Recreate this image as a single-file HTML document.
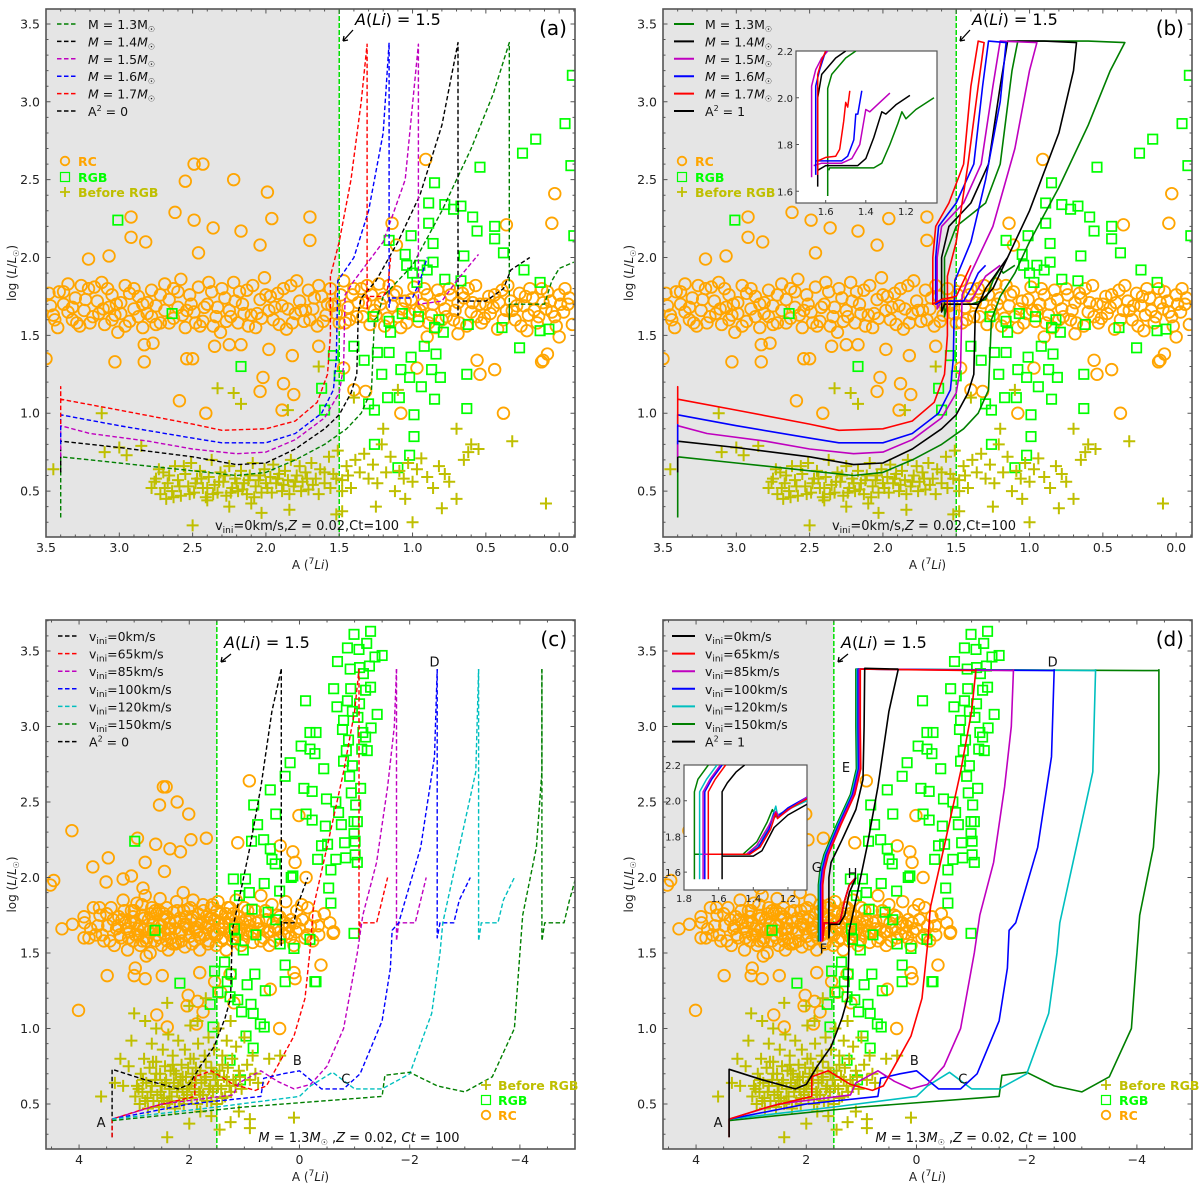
<!DOCTYPE html>
<html><head><meta charset="utf-8"><title>Li-rich giants tracks</title>
<style>
html,body{margin:0;padding:0;background:#fff;}
svg{display:block;font-family:"DejaVu Sans","Liberation Sans",sans-serif;}
</style></head>
<body>
<svg id="fig" width="1200" height="1186" viewBox="0 0 1200 1186" xmlns="http://www.w3.org/2000/svg"></svg>
<script>
// ---------- data: panels (a),(b) observations ----------
const rcAB = [[2.49,2.60],[2.43,2.60],[2.55,2.49],[2.22,2.50],[1.99,2.42],[2.62,2.29],[2.49,2.24],[2.36,2.19],[2.92,2.26],[2.92,2.13],[2.82,2.10],[2.17,2.17],[1.96,2.25],[1.70,2.26],[1.70,2.11],[2.04,2.08],[3.21,1.99],[3.07,2.01],[2.46,2.03],[0.91,2.63],[0.03,2.41],[0.05,2.22],[0.36,2.21],[1.11,2.08],[1.14,2.22],
[3.5,1.35],[3.03,1.33],[2.83,1.33],[2.83,1.44],[2.77,1.45],[2.54,1.35],[2.50,1.35],[2.35,1.43],[2.25,1.44],[2.17,1.44],[1.98,1.41],[1.82,1.37],[1.64,1.43],[2.02,1.23],[2.04,1.14],[1.88,1.19],[1.81,1.12],[1.89,1.02],[2.59,1.08],[2.41,1.00],[1.47,1.29],[1.40,1.15],[1.32,1.14],[1.08,1.00],[0.97,1.29],[0.90,1.49],[0.69,1.51],[0.54,1.25],[0.56,1.34],[0.38,1.00],[0.44,1.28],[0.11,1.34],[0.08,1.38],[0.12,1.33],[0.0,1.49],[0.22,1.53],
[3.48,1.77],[3.45,1.63],[3.42,1.55],[3.38,1.70],[3.35,1.83],[3.32,1.60],[3.30,1.74],[3.27,1.56],[3.24,1.66],[3.21,1.80],[3.18,1.62],[3.15,1.72],[3.12,1.84],[3.10,1.57],[3.07,1.68],[3.05,1.76],[3.03,1.63],[3.01,1.52],[2.99,1.71],[2.96,1.82],[2.93,1.59],[2.90,1.67],[2.87,1.75],[2.84,1.55],[2.81,1.64],[2.78,1.79],[2.75,1.69],[2.72,1.58],[2.69,1.83],[2.66,1.73],[2.63,1.61],[2.60,1.68],[2.58,1.86],[2.55,1.55],[2.52,1.76],[2.49,1.65],[2.46,1.81],[2.43,1.59],[2.40,1.70],[2.37,1.78],[2.34,1.62],[2.31,1.52],[2.28,1.74],[2.25,1.66],[2.22,1.84],[2.19,1.58],[2.16,1.70],[2.13,1.79],[2.10,1.63],[2.07,1.55],[2.04,1.73],[2.01,1.87],[1.98,1.66],[1.95,1.60],[1.92,1.77],[1.89,1.69],[1.86,1.54],[1.83,1.82],[1.80,1.64],[1.77,1.72],[1.74,1.59],[1.71,1.79],[1.68,1.67],[1.65,1.56],[1.62,1.75],[1.59,1.63],[1.56,1.80],[1.53,1.70],[1.50,1.58],[1.47,1.85],[1.44,1.68],[1.41,1.76],[1.38,1.62],[1.35,1.80],[1.32,1.71],[1.29,1.57],[1.26,1.66],[1.23,1.83],[1.20,1.74],[1.17,1.61],[1.14,1.69],[1.11,1.78],[1.08,1.55],[1.05,1.72],[1.02,1.64],[0.99,1.81],[0.96,1.59],[0.93,1.70],[0.90,1.76],[0.87,1.63],[0.84,1.55],[0.81,1.73],[0.78,1.67],[0.75,1.80],[0.72,1.60],[0.69,1.71],[0.66,1.77],[0.63,1.56],[0.60,1.65],[0.57,1.82],[0.54,1.70],[0.51,1.61],[0.48,1.75],[0.45,1.68],[0.42,1.54],[0.39,1.79],[0.36,1.66],[0.33,1.72],[0.30,1.60],[0.27,1.77],[0.24,1.69],[0.21,1.63],[0.18,1.74],[0.15,1.58],[0.12,1.80],[0.09,1.67],[0.06,1.72],[0.03,1.62],[0.00,1.76],[-0.03,1.65],[-0.06,1.70],[-0.09,1.57],
[3.47,1.69],[3.41,1.78],[3.35,1.65],[3.29,1.58],[3.23,1.73],[3.17,1.81],[3.11,1.67],[3.05,1.60],[2.99,1.64],[2.93,1.77],[2.87,1.62],[2.81,1.71],[2.75,1.57],[2.69,1.66],[2.63,1.80],[2.57,1.63],[2.51,1.70],[2.45,1.56],[2.39,1.84],[2.33,1.68],[2.27,1.59],[2.21,1.72],[2.15,1.64],[2.09,1.82],[2.03,1.61],[1.97,1.75],[1.91,1.57],[1.85,1.67],[1.79,1.85],[1.73,1.66],[1.67,1.74],[1.61,1.59],[1.55,1.69],[1.49,1.76],[1.43,1.60],[1.37,1.71],[1.31,1.82],[1.25,1.63],[1.19,1.56],[1.13,1.76],[1.07,1.67],[1.01,1.73],[0.95,1.66],[0.89,1.58],[0.83,1.79],[0.77,1.62],[0.71,1.66],[0.65,1.74],[0.59,1.71],[0.53,1.58],[0.47,1.64],[0.41,1.71],[0.35,1.82],[0.29,1.69],[0.23,1.75],[0.17,1.66],[0.11,1.71],[0.05,1.65],[-0.01,1.70],[-0.07,1.74]];
const rcAB2 = [[3.44,1.60],[3.38,1.78],[3.32,1.68],[3.26,1.82],[3.20,1.58],[3.14,1.64],[3.08,1.80],[3.02,1.70],[2.96,1.56],[2.90,1.80],[2.84,1.70],[2.78,1.62],[2.72,1.76],[2.66,1.58],[2.60,1.78],[2.54,1.66],[2.48,1.58],[2.42,1.68],[2.36,1.56],[2.30,1.80],[2.24,1.62],[2.18,1.78],[2.12,1.56],[2.06,1.64],[2.00,1.76],[1.94,1.68],[1.88,1.80],[1.82,1.58],[1.76,1.66],[1.70,1.60],[1.64,1.82],[1.58,1.70],[1.52,1.64],[1.46,1.58],[1.40,1.80],[1.34,1.62],[1.28,1.76],[1.22,1.70],[1.16,1.82],[1.10,1.62],[1.04,1.58],[0.98,1.66],[0.92,1.80],[0.86,1.70],[0.80,1.60],[0.74,1.76],[0.68,1.58],[0.62,1.80],[0.56,1.62],[0.50,1.70],[0.44,1.76],[0.38,1.60],[0.32,1.66],[0.26,1.56],[0.20,1.80],[0.14,1.62],[0.08,1.78],[0.02,1.56],[-0.04,1.80]];
const rgbAB = [[3.01,2.24],[2.64,1.64],[2.17,1.30],[1.62,1.16],[1.54,1.37],[1.50,1.24],[1.60,1.02],[1.40,1.43],[1.33,1.34],[1.30,1.06],[1.26,1.02],[1.26,0.80],[1.27,1.62],[1.24,1.39],[1.21,1.25],[1.16,2.11],[1.16,1.59],[1.15,1.52],[1.16,1.39],[1.17,1.10],[1.09,1.10],[1.08,1.28],[1.07,1.64],[1.05,2.02],[1.04,1.95],[1.02,1.23],[1.01,1.36],[1.01,2.14],[0.99,0.99],[0.99,0.85],[0.97,1.84],[0.96,1.62],[0.94,1.17],[0.92,1.43],[0.89,2.35],[0.89,2.22],[0.87,1.28],[0.86,2.09],[0.86,1.97],[0.85,2.48],[0.85,1.55],[0.85,1.09],[0.84,1.38],[0.82,1.60],[0.81,1.23],[0.79,1.52],[0.78,2.34],[0.78,1.86],[0.72,2.31],[0.67,2.33],[0.67,1.85],[0.65,2.01],[0.63,1.25],[0.63,1.03],[0.62,1.57],[0.59,2.26],[0.56,2.17],[0.54,2.58],[0.44,2.20],[0.44,2.12],[0.39,1.55],[0.38,2.03],[0.27,1.42],[0.25,2.67],[0.24,1.92],[0.16,2.76],[0.13,1.84],[0.13,1.53],[0.07,1.54],[-0.04,2.86],[-0.08,2.59],[-0.09,3.17],[-0.10,2.14],[1.10,0.65],[1.02,0.73],[0.95,1.95],[1.0,1.9],[0.9,1.92]];
const preAB = [[2.78,0.52],[2.75,0.58],[2.72,0.48],[2.70,0.62],[2.67,0.55],[2.64,0.50],[2.62,0.66],[2.60,0.57],[2.58,0.47],[2.55,0.61],[2.53,0.53],[2.51,0.68],[2.49,0.49],[2.47,0.58],[2.45,0.63],[2.43,0.52],[2.41,0.46],[2.39,0.59],[2.37,0.70],[2.35,0.54],[2.33,0.49],[2.31,0.62],[2.29,0.56],[2.27,0.47],[2.25,0.66],[2.23,0.52],[2.21,0.58],[2.19,0.50],[2.17,0.63],[2.15,0.55],[2.13,0.48],[2.11,0.60],[2.09,0.68],[2.07,0.53],[2.05,0.57],[2.03,0.49],[2.01,0.64],[1.99,0.52],[1.97,0.59],[1.95,0.67],[1.93,0.55],[1.91,0.61],[1.89,0.50],[1.87,0.63],[1.85,0.57],[1.83,0.70],[1.81,0.53],[1.79,0.60],[1.77,0.66],[1.75,0.56],[1.73,0.62],[1.71,0.51],[1.69,0.68],[1.66,0.58],[1.63,0.64],[1.60,0.55],[1.57,0.72],[1.54,0.61],[1.51,0.76],[1.48,0.57],[1.45,0.66],[1.42,0.52],[1.39,0.70],[1.36,0.62],[1.33,0.74],[1.30,0.58],[1.27,0.67],[1.24,0.55],[1.21,0.80],[1.18,0.62],[1.15,0.72],[1.12,0.50],[1.09,0.63],[1.06,0.58],[1.03,0.68],[1.00,0.56],[0.97,0.64],[0.94,0.71],[0.90,0.59],[0.86,0.52],[0.82,0.66],[0.78,0.61],[0.75,0.56],[0.70,0.45],[0.65,0.70],[0.62,0.75],[0.55,0.77],[0.32,0.82],[0.09,0.42],[2.95,0.73],[3.10,0.75],[3.45,0.64],[2.85,0.79],[3.00,0.78],[2.50,0.28],[2.33,1.16],[2.22,1.13],[2.17,1.06],[1.85,1.02],[1.64,1.30],[1.52,0.35],[1.48,0.37],[1.25,0.40],[1.20,0.90],[1.10,1.15],[1.05,0.45],[1.00,0.30],[0.80,0.39],[0.70,0.90],[0.60,0.80],[1.40,1.10],[3.12,1.00],[1.84,0.38],[2.03,0.36],[2.10,0.42],[2.25,0.40],[2.40,0.44],[2.68,0.45]];
const preAB2 = [[2.76,0.56],[2.73,0.64],[2.69,0.52],[2.66,0.60],[2.63,0.46],[2.59,0.53],[2.56,0.66],[2.52,0.48],[2.48,0.55],[2.44,0.58],[2.40,0.52],[2.36,0.48],[2.32,0.56],[2.28,0.60],[2.24,0.49],[2.20,0.55],[2.16,0.51],[2.12,0.57],[2.08,0.46],[2.04,0.60],[2.00,0.55],[1.96,0.49],[1.92,0.58],[1.88,0.54],[1.84,0.48],[1.80,0.56],[1.76,0.50],[1.72,0.58],[1.68,0.54],[1.64,0.48],[1.60,0.62],[1.56,0.52],[1.52,0.58],[1.48,0.50],[1.44,0.60]];

// ---------- panel (a) dashed tracks ----------
const trA13 = [[3.4,0.33],[3.4,0.72],[3.0,0.68],[2.5,0.63],[2.2,0.60],[2.0,0.62],[1.8,0.70],[1.6,0.80],[1.45,0.90],[1.35,1.00],[1.28,1.15],[1.26,1.60],[1.24,1.62],[1.2,1.75],[1.0,1.95],[0.8,2.30],[0.6,2.70],[0.45,3.05],[0.34,3.38],[0.34,1.60],[0.34,1.70],[0.1,1.70],[0.05,1.85],[0.0,1.93],[-0.1,1.97]];
const trA14 = [[3.4,0.62],[3.4,0.82],[3.0,0.78],[2.5,0.72],[2.2,0.67],[2.0,0.68],[1.8,0.77],[1.6,0.90],[1.5,0.99],[1.42,1.13],[1.38,1.25],[1.37,1.65],[1.35,1.74],[1.25,1.85],[1.1,2.10],[0.95,2.40],[0.8,2.85],[0.69,3.38],[0.69,1.63],[0.69,1.72],[0.5,1.72],[0.38,1.80],[0.33,1.92],[0.2,2.00]];
const trA15 = [[3.4,0.72],[3.4,0.92],[3.2,0.87],[2.8,0.82],[2.5,0.77],[2.2,0.74],[2.0,0.75],[1.8,0.83],[1.6,0.97],[1.5,1.13],[1.47,1.30],[1.46,1.76],[1.4,1.85],[1.2,2.10],[1.05,2.50],[0.96,3.37],[0.96,1.70],[0.8,1.72],[0.7,1.85],[0.55,2.02]];
const trA16 = [[3.4,0.80],[3.4,0.99],[3.0,0.92],[2.5,0.84],[2.3,0.81],[2.0,0.81],[1.8,0.87],[1.62,1.00],[1.54,1.15],[1.52,1.35],[1.51,1.85],[1.4,2.00],[1.3,2.30],[1.2,2.80],[1.16,3.38],[1.16,1.68],[1.15,1.74],[1.0,1.74],[0.95,1.85],[0.9,2.00]];
const trA17 = [[3.4,0.93],[3.4,1.17],[3.4,1.09],[3.0,1.02],[2.5,0.93],[2.3,0.89],[2.0,0.90],[1.8,0.95],[1.65,1.07],[1.58,1.25],[1.56,1.50],[1.56,1.88],[1.5,2.10],[1.42,2.50],[1.35,3.00],[1.31,3.37],[1.31,1.67],[1.3,1.75],[1.2,1.75],[1.17,1.80],[1.15,2.00]];
// ---------- panel (b) solid tracks ----------
const trB13 = [[3.4,0.33],[3.4,0.72],[3.0,0.68],[2.5,0.63],[2.2,0.60],[2.0,0.62],[1.8,0.70],[1.6,0.80],[1.45,0.90],[1.35,1.00],[1.28,1.15],[1.26,1.60],[1.2,1.75],[1.1,1.90],[1.0,2.10],[0.8,2.45],[0.6,2.85],[0.45,3.20],[0.35,3.38],[0.6,3.39],[0.9,3.39],[1.08,3.39],[1.12,3.20],[1.2,2.60],[1.3,2.35],[1.5,2.20],[1.58,2.00],[1.58,1.62],[1.56,1.70],[1.4,1.70],[1.3,1.73],[1.25,1.85],[1.2,1.93],[1.18,1.90],[1.1,1.95]];
const trB14 = [[3.4,0.62],[3.4,0.82],[3.0,0.78],[2.5,0.72],[2.2,0.67],[2.0,0.68],[1.8,0.77],[1.6,0.90],[1.5,0.99],[1.42,1.13],[1.38,1.25],[1.37,1.65],[1.3,1.80],[1.15,2.00],[1.0,2.30],[0.8,2.80],[0.7,3.20],[0.68,3.38],[0.9,3.39],[1.15,3.39],[1.2,3.10],[1.28,2.60],[1.4,2.35],[1.55,2.20],[1.6,2.00],[1.6,1.65],[1.58,1.70],[1.35,1.70],[1.25,1.80],[1.2,1.90],[1.15,2.00]];
const trB15 = [[3.4,0.72],[3.4,0.92],[3.2,0.87],[2.8,0.82],[2.5,0.77],[2.2,0.74],[2.0,0.75],[1.8,0.83],[1.6,0.97],[1.5,1.13],[1.47,1.30],[1.46,1.76],[1.4,1.90],[1.25,2.20],[1.1,2.70],[1.0,3.20],[0.95,3.38],[1.2,3.39],[1.25,3.10],[1.33,2.60],[1.45,2.35],[1.6,2.20],[1.63,2.00],[1.63,1.67],[1.6,1.72],[1.4,1.72],[1.35,1.80],[1.3,1.88],[1.2,1.95]];
const trB16 = [[3.4,0.80],[3.4,0.99],[3.0,0.92],[2.5,0.84],[2.3,0.81],[2.0,0.81],[1.8,0.87],[1.62,1.00],[1.54,1.15],[1.52,1.35],[1.51,1.85],[1.4,2.10],[1.3,2.50],[1.2,3.00],[1.16,3.38],[1.28,3.39],[1.32,3.10],[1.38,2.60],[1.5,2.35],[1.62,2.20],[1.64,2.00],[1.64,1.70],[1.6,1.72],[1.45,1.72],[1.4,1.80],[1.35,1.90],[1.3,1.95]];
const trB17 = [[3.4,0.93],[3.4,1.17],[3.4,1.09],[3.0,1.02],[2.5,0.93],[2.3,0.89],[2.0,0.90],[1.8,0.95],[1.65,1.07],[1.58,1.25],[1.56,1.50],[1.56,1.88],[1.5,2.10],[1.42,2.60],[1.35,3.10],[1.31,3.38],[1.35,3.39],[1.4,3.10],[1.45,2.60],[1.55,2.35],[1.64,2.20],[1.66,2.00],[1.66,1.70],[1.6,1.73],[1.5,1.75],[1.45,1.85],[1.4,1.95]];
// inset (b)
const inB13 = [[1.59,1.58],[1.59,2.04],[1.57,2.10],[1.5,2.17],[1.45,2.20]];
const inB13rc = [[1.585,1.69],[1.58,1.70],[1.36,1.70],[1.32,1.72],[1.28,1.80],[1.24,1.89],[1.22,1.94],[1.20,1.91],[1.15,1.95],[1.06,2.00]];
const inB14 = [[1.64,1.62],[1.64,2.00],[1.62,2.10],[1.55,2.17],[1.50,2.20]];
const inB14rc = [[1.64,1.69],[1.6,1.71],[1.44,1.71],[1.4,1.74],[1.36,1.83],[1.32,1.94],[1.30,1.93],[1.25,1.97],[1.18,2.01]];
const inB15 = [[1.67,1.66],[1.67,2.05],[1.65,2.12],[1.62,2.17],[1.59,2.20]];
const inB15rc = [[1.66,1.71],[1.62,1.72],[1.52,1.72],[1.47,1.74],[1.43,1.80],[1.40,1.95],[1.38,1.94],[1.33,1.98],[1.28,2.02]];
const inB16 = [[1.65,1.67],[1.65,2.05],[1.63,2.12],[1.60,2.20]];
const inB16rc = [[1.65,1.73],[1.6,1.73],[1.52,1.73],[1.49,1.75],[1.46,1.82],[1.45,1.93],[1.44,1.93],[1.42,2.03]];
const inB17 = [[1.64,1.67],[1.64,2.10],[1.62,2.16],[1.60,2.20]];
const inB17rc = [[1.64,1.73],[1.6,1.745],[1.55,1.75],[1.53,1.78],[1.51,1.90],[1.50,1.98],[1.49,1.96],[1.48,2.03]];

// ---------- data: panels (c),(d) observations ----------
const rcCD = [[4.52,1.95],[4.46,1.98],[4.31,1.66],[4.13,2.31],[4.12,1.69],[4.01,1.12],[3.91,1.74],[3.91,1.60],[3.79,1.66],[3.75,2.07],[3.63,1.80],[3.51,1.97],[3.49,1.35],[3.47,2.13],[3.20,1.99],[3.05,2.01],[3.00,1.35],[2.98,1.40],[2.94,2.26],[2.80,2.10],[2.80,1.33],[2.78,1.48],[2.84,1.93],[2.61,2.22],[2.54,2.48],[2.49,1.35],[2.47,2.60],[2.42,2.60],[2.45,2.04],[2.35,2.19],[2.22,2.50],[2.16,2.17],[2.01,2.42],[1.97,2.25],[1.69,2.26],[2.02,1.22],[2.04,1.15],[1.85,1.18],[1.75,1.11],[1.81,1.37],[2.59,1.09],[2.40,1.01],[1.87,1.03],[0.91,2.64],[1.12,2.23],[0.35,2.21],[0.01,2.41],[0.12,2.17],[0.08,2.10],[-0.12,2.00],[-0.61,1.63],[-0.39,1.42],[0.08,1.33],[0.10,1.37],[0.53,1.26],[0.36,1.00],[1.19,1.17],[1.43,1.24],[1.54,1.31],[1.26,1.36],
[3.70,1.62],[3.62,1.75],[3.55,1.58],[3.48,1.68],[3.42,1.80],[3.36,1.55],[3.32,1.66],[3.28,1.74],[3.24,1.60],[3.20,1.85],[3.16,1.70],[3.12,1.52],[3.08,1.64],[3.05,1.78],[3.02,1.58],[2.98,1.70],[2.95,1.83],[2.92,1.62],[2.89,1.55],[2.86,1.75],[2.83,1.66],[2.80,1.88],[2.77,1.60],[2.74,1.72],[2.71,1.50],[2.68,1.80],[2.65,1.65],[2.62,1.58],[2.59,1.76],[2.56,1.68],[2.53,1.86],[2.50,1.55],[2.47,1.72],[2.44,1.63],[2.41,1.80],[2.38,1.52],[2.35,1.70],[2.32,1.60],[2.29,1.77],[2.26,1.66],[2.23,1.84],[2.20,1.57],[2.17,1.73],[2.14,1.64],[2.11,1.90],[2.08,1.54],[2.05,1.69],[2.02,1.79],[1.99,1.61],[1.96,1.72],[1.93,1.85],[1.90,1.58],[1.87,1.67],[1.84,1.76],[1.81,1.52],[1.78,1.70],[1.75,1.82],[1.72,1.62],[1.69,1.74],[1.66,1.56],[1.63,1.68],[1.60,1.80],[1.57,1.64],[1.54,1.72],[1.51,1.55],[1.48,1.84],[1.45,1.66],[1.42,1.76],[1.39,1.60],[1.36,1.70],[1.33,1.52],[1.30,1.80],[1.27,1.64],[1.24,1.73],[1.21,1.58],[1.18,1.68],[1.15,1.85],[1.12,1.62],[1.09,1.74],[1.06,1.55],[1.03,1.70],[1.00,1.80],[0.95,1.63],[0.90,1.72],[0.85,1.57],[0.80,1.78],[0.75,1.66],[0.70,1.88],[0.65,1.60],[0.60,1.72],[0.55,1.55],[0.50,1.82],[0.45,1.67],[0.40,1.75],[0.35,1.60],[0.30,1.70],[0.25,1.84],[0.20,1.63],[0.15,1.72],[0.10,1.55],[0.05,1.78],[0.00,1.66],[-0.05,1.72],[-0.10,1.60],[-0.15,1.80],[-0.20,1.68],[-0.28,1.74],[-0.35,1.62],[-0.45,1.76],[-0.55,1.70],[-0.62,1.64],
[3.30,1.68],[3.22,1.72],[3.14,1.66],[3.06,1.70],[2.98,1.62],[2.90,1.68],[2.82,1.73],[2.74,1.64],[2.66,1.70],[2.58,1.62],[2.50,1.68],[2.42,1.74],[2.34,1.66],[2.26,1.71],[2.18,1.63],[2.10,1.69],[2.02,1.66],[1.94,1.74],[1.86,1.64],[1.78,1.70],[1.70,1.67],[1.62,1.73],[1.54,1.62],[1.46,1.70],[1.38,1.66],[1.30,1.73],[1.22,1.64],[1.14,1.70],[1.06,1.66],[0.98,1.72],[0.90,1.68],[0.82,1.63],[0.74,1.71],[0.66,1.66],[0.58,1.64],[0.48,1.70],[0.38,1.66],[0.28,1.62],[0.18,1.68],[0.08,1.70],[3.0,1.78],[2.7,1.76],[2.4,1.58],[2.1,1.78],[1.8,1.60],[1.5,1.78],[1.2,1.76],[2.85,1.58],[2.55,1.78],[2.25,1.56],[1.95,1.56],[1.65,1.58]];
const rcCD2 = [[3.90,1.70],[3.82,1.60],[3.74,1.80],[3.66,1.68],[3.58,1.62],[3.50,1.76],[3.44,1.58],[3.38,1.72],[3.26,1.62],[3.18,1.78],[3.10,1.60],[3.02,1.74],[2.94,1.66],[2.86,1.82],[2.78,1.58],[2.70,1.66],[2.62,1.78],[2.54,1.60],[2.46,1.76],[2.38,1.66],[2.30,1.56],[2.22,1.78],[2.14,1.58],[2.06,1.74],[1.98,1.80],[1.90,1.66],[1.82,1.62],[1.74,1.78],[1.66,1.70],[1.58,1.82],[1.50,1.62],[1.42,1.58],[1.34,1.76],[1.26,1.80],[1.18,1.60],[1.10,1.64],[1.02,1.58],[0.94,1.78],[0.86,1.64],[0.78,1.70],[0.70,1.58],[0.62,1.78],[0.54,1.64],[0.46,1.58],[0.36,1.74],[0.26,1.70],[0.16,1.60],[0.06,1.64],[-0.04,1.82],[-0.14,1.62],[-0.24,1.58],[-0.34,1.68]];
const rgbCD = [[2.99,2.24],[2.62,1.65],[2.17,1.30],[1.62,1.16],[1.54,1.38],[1.48,1.24],[1.57,1.01],[1.36,1.44],[1.31,1.31],[1.26,1.21],[1.24,1.36],[1.20,1.99],[1.18,1.66],[1.16,1.59],[1.12,1.19],[1.09,1.88],[1.05,1.11],[1.02,1.52],[0.98,1.99],[0.97,0.95],[0.95,1.29],[0.91,1.90],[0.88,1.16],[0.87,2.24],[0.86,1.79],[0.84,1.10],[0.83,2.48],[0.81,1.36],[0.79,1.62],[0.76,2.35],[0.71,1.03],[0.65,2.25],[0.64,1.96],[0.62,1.25],[0.57,1.77],[0.53,2.58],[0.53,2.19],[0.44,2.09],[0.43,1.72],[0.36,1.91],[0.35,1.56],[0.26,1.42],[0.26,2.67],[0.17,2.76],[0.12,2.01],[-0.03,2.87],[-0.08,2.59],[-0.11,3.17],[-0.12,2.42],[-0.19,2.85],[-0.19,2.96],[-0.23,2.57],[-0.23,2.38],[-0.28,1.31],[-0.28,2.82],[-0.30,2.96],[-0.33,2.12],[-0.40,2.21],[-0.44,2.72],[-0.47,2.34],[-0.49,2.52],[-0.51,2.22],[-0.53,1.93],[-0.57,1.83],[-0.62,3.25],[-0.66,2.50],[-0.66,2.12],[-0.68,3.13],[-0.69,3.43],[-0.71,2.43],[-0.76,2.35],[-0.78,2.98],[-0.80,3.04],[-0.80,2.77],[-0.82,2.23],[-0.84,2.13],[-0.85,2.84],[-0.87,3.52],[-0.87,3.17],[-0.89,2.91],[-0.91,2.67],[-0.92,3.38],[-0.93,3.25],[-0.94,2.56],[-0.96,3.10],[-0.96,2.74],[-0.99,3.61],[-0.99,2.29],[-0.99,1.63],[-1.01,2.24],[-1.01,2.15],[-1.02,2.48],[-1.06,3.06],[-1.08,3.51],[-1.09,3.39],[-1.11,2.59],[-1.13,2.85],[-1.15,2.96],[-1.16,3.35],[-1.20,3.24],[-1.20,2.93],[-1.22,3.55],[-1.23,2.84],[-1.27,3.40],[-1.29,3.26],[-1.30,2.99],[-1.37,3.46],[-1.41,3.08],[-1.50,3.47],[-1.29,3.63],[-1.09,3.15],[-0.99,2.37],[-1.05,2.37],[-1.05,2.10],[-0.57,2.05],[0.15,2.00],[0.50,2.12],[0.43,2.42],[0.26,1.31],[-0.30,1.31],[0.10,1.53],[-0.19,1.59],[0.64,1.01],[0.84,0.87],[1.07,0.66],[1.26,0.79]];
const preCD = [[2.98,0.55],[2.95,0.62],[2.9,0.50],[2.88,0.70],[2.85,0.58],[2.82,0.80],[2.8,0.52],[2.78,0.64],[2.75,0.47],[2.72,0.74],[2.7,0.58],[2.68,0.90],[2.65,0.52],[2.62,0.66],[2.6,0.78],[2.58,0.56],[2.55,0.48],[2.53,0.70],[2.5,0.62],[2.48,0.86],[2.46,0.54],[2.44,0.75],[2.42,0.66],[2.4,0.50],[2.38,0.96],[2.36,0.60],[2.34,0.72],[2.32,0.55],[2.3,0.82],[2.28,0.64],[2.26,0.47],[2.24,0.70],[2.22,0.58],[2.2,0.92],[2.18,0.52],[2.16,0.66],[2.14,0.76],[2.12,0.60],[2.1,0.50],[2.08,0.86],[2.06,0.68],[2.04,0.56],[2.02,0.74],[2.0,0.62],[1.98,1.02],[1.96,0.54],[1.94,0.70],[1.92,0.80],[1.9,0.60],[1.88,0.66],[1.86,0.50],[1.84,0.90],[1.82,0.58],[1.8,0.72],[1.78,0.64],[1.75,0.56],[1.72,0.82],[1.7,0.68],[1.68,0.52],[1.65,0.94],[1.62,0.62],[1.6,0.74],[1.57,0.58],[1.55,0.86],[1.52,0.66],[1.5,0.50],[1.47,1.00],[1.45,0.72],[1.42,0.60],[1.4,0.82],[1.37,0.68],[1.35,0.55],[1.32,0.92],[1.3,0.74],[1.27,0.62],[1.25,1.05],[1.22,0.80],[1.2,0.66],[1.15,0.88],[1.1,0.72],[1.05,0.60],[1.0,0.94],[0.95,0.76],[0.9,0.66],[0.85,0.82],[0.8,0.70],[0.75,0.64],[0.55,0.80],[0.35,0.82],[3.35,0.64],[3.6,0.55],[3.25,0.80],[3.1,0.75],[3.2,0.62],[3.05,0.92],[2.6,1.0],[2.4,1.17],[2.0,1.15],[1.85,1.05],[1.7,1.20],[1.1,0.45],[0.9,0.40],[1.25,0.38],[1.45,0.33],[0.9,0.34],[2.0,0.37],[1.6,0.42],[2.4,0.28],[0.1,0.41],[1.8,0.45],[3.0,1.1],[2.8,1.05]];
const preCD2 = [[2.92,0.60],[2.84,0.66],[2.76,0.54],[2.68,0.62],[2.60,0.70],[2.52,0.58],[2.44,0.64],[2.36,0.52],[2.28,0.72],[2.20,0.62],[2.12,0.68],[2.04,0.58],[1.96,0.64],[1.88,0.74],[1.80,0.56],[1.72,0.66],[1.64,0.60],[1.56,0.70],[1.48,0.62],[1.40,0.54],[1.32,0.66],[1.24,0.58],[1.16,0.62],[1.08,0.68],[2.66,0.78],[2.30,0.76],[1.98,0.80],[1.70,0.78],[1.40,0.76],[2.50,0.52],[2.10,0.54],[1.60,0.52]];

// ---------- panel (c)/(d) tracks: pre-RGB + RGB up to tip ----------
const rgbV0 = [[3.4,0.28],[3.4,0.73],[2.8,0.66],[2.2,0.60],[2.0,0.63],[1.8,0.75],[1.55,0.88],[1.35,1.07],[1.25,1.20],[1.22,1.65],[1.1,1.85],[0.9,2.20],[0.7,2.60],[0.5,3.10],[0.33,3.38]];
const rgbV65 = [[3.4,0.28],[3.4,0.40],[2.7,0.48],[1.9,0.55],[1.9,0.68],[1.6,0.72],[1.2,0.63],[0.8,0.59],[0.6,0.62],[0.4,0.75],[0.1,0.95],[-0.1,1.20],[-0.2,1.55],[-0.25,1.80],[-0.5,2.20],[-0.8,2.70],[-1.0,3.10],[-1.08,3.38]];
const rgbV85 = [[3.4,0.40],[2.5,0.50],[1.2,0.56],[1.1,0.64],[0.7,0.72],[0.4,0.65],[0.1,0.60],[-0.2,0.63],[-0.5,0.75],[-0.8,1.00],[-1.05,1.50],[-1.15,1.75],[-1.4,2.10],[-1.6,2.60],[-1.72,3.00],[-1.76,3.38]];
const rgbV100 = [[3.4,0.40],[2.0,0.50],[0.7,0.55],[0.65,0.67],[0.3,0.70],[0.0,0.72],[-0.4,0.60],[-0.8,0.60],[-1.1,0.70],[-1.5,1.05],[-1.65,1.40],[-1.68,1.65],[-1.8,1.70],[-2.2,2.20],[-2.45,2.80],[-2.5,3.38]];
const rgbV120 = [[3.4,0.40],[1.5,0.48],[0.0,0.55],[-0.2,0.62],[-0.6,0.71],[-1.0,0.60],[-1.5,0.60],[-2.0,0.70],[-2.4,1.10],[-2.55,1.50],[-2.6,1.70],[-2.9,2.20],[-3.2,2.70],[-3.25,3.38]];
const rgbV150 = [[3.4,0.39],[1.0,0.48],[-1.5,0.55],[-1.55,0.69],[-2.0,0.71],[-2.5,0.62],[-3.0,0.58],[-3.5,0.68],[-3.9,1.00],[-4.0,1.50],[-4.05,1.75],[-4.3,2.20],[-4.4,2.70],[-4.4,3.38]];
// (c) dashed post-tip
const cPostV0 = [[0.33,3.38],[0.33,1.55],[0.33,1.70],[0.1,1.70],[0.05,1.80],[-0.15,2.00]];
const cPostV65 = [[-1.08,3.38],[-1.08,1.60],[-1.1,1.70],[-1.4,1.70],[-1.5,1.85],[-1.6,2.00]];
const cPostV85 = [[-1.76,3.38],[-1.76,1.58],[-1.8,1.70],[-2.1,1.70],[-2.2,1.85],[-2.3,2.00]];
const cPostV100 = [[-2.5,3.38],[-2.5,1.60],[-2.55,1.70],[-2.8,1.70],[-2.9,1.85],[-3.1,2.00]];
const cPostV120 = [[-3.25,3.38],[-3.25,1.58],[-3.3,1.70],[-3.6,1.70],[-3.7,1.85],[-3.9,2.00]];
const cPostV150 = [[-4.4,3.38],[-4.4,1.58],[-4.45,1.70],[-4.8,1.70],[-4.9,1.85],[-5.0,1.98]];
// (d) solid post-tip (flash, return, clump)
const dPostV0 = [[0.33,3.38],[0.94,3.385],[0.95,3.0],[0.97,2.65],[1.1,2.45],[1.35,2.25],[1.55,2.10],[1.59,2.00],[1.59,1.60],[1.57,1.69],[1.4,1.69],[1.3,1.75],[1.22,1.90],[1.1,2.00]];
const dPostV65 = [[-1.08,3.37],[1.02,3.38],[1.02,3.0],[1.01,2.72],[1.12,2.55],[1.37,2.35],[1.6,2.15],[1.67,2.05],[1.70,1.95],[1.70,1.58],[1.67,1.70],[1.45,1.70],[1.38,1.72],[1.3,1.85],[1.22,1.95],[1.1,2.00]];
const dPostV85 = [[-1.76,3.37],[1.04,3.38],[1.04,3.0],[1.03,2.72],[1.14,2.55],[1.39,2.35],[1.62,2.15],[1.69,2.05],[1.72,1.95],[1.72,1.58],[1.69,1.70],[1.45,1.70],[1.38,1.72],[1.3,1.85],[1.22,1.95],[1.1,2.00]];
const dPostV100 = [[-2.5,3.37],[1.06,3.38],[1.06,3.0],[1.05,2.72],[1.16,2.55],[1.41,2.35],[1.64,2.15],[1.71,2.05],[1.74,1.95],[1.74,1.58],[1.71,1.70],[1.45,1.70],[1.38,1.72],[1.3,1.85],[1.22,1.95],[1.1,2.00]];
const dPostV120 = [[-3.25,3.37],[1.08,3.38],[1.08,3.0],[1.07,2.72],[1.18,2.55],[1.43,2.35],[1.66,2.15],[1.73,2.05],[1.76,1.95],[1.76,1.58],[1.73,1.70],[1.45,1.70],[1.38,1.72],[1.3,1.85],[1.22,1.95],[1.1,2.00]];
const dPostV150 = [[-4.4,3.37],[1.10,3.38],[1.10,3.0],[1.09,2.72],[1.20,2.55],[1.45,2.35],[1.68,2.15],[1.75,2.05],[1.78,1.95],[1.78,1.58],[1.75,1.70],[1.45,1.70],[1.38,1.72],[1.3,1.85],[1.22,1.95],[1.1,2.00]];
// inset (d)
const inD0 = [[1.58,1.56],[1.58,2.05],[1.55,2.10],[1.5,2.16],[1.45,2.20]];
const inD0rc = [[1.58,1.69],[1.4,1.69],[1.35,1.72],[1.28,1.85],[1.2,1.92],[1.09,1.98]];
const inD65 = [[1.66,1.56],[1.66,2.05],[1.62,2.12],[1.56,2.20]];
const inD85 = [[1.69,1.56],[1.69,2.05],[1.65,2.12],[1.59,2.20]];
const inD100 = [[1.68,1.56],[1.68,2.05],[1.64,2.12],[1.58,2.20]];
const inD120 = [[1.71,1.56],[1.71,2.05],[1.67,2.12],[1.61,2.20]];
const inD150 = [[1.74,1.56],[1.74,2.05],[1.72,2.12],[1.66,2.20]];
const inD65rc = [[1.66,1.70],[1.42,1.70],[1.36,1.74],[1.30,1.84],[1.27,1.93],[1.26,1.90],[1.2,1.95],[1.09,2.01]];
const inD85rc = [[1.69,1.70],[1.44,1.70],[1.38,1.75],[1.31,1.86],[1.27,1.94],[1.25,1.91],[1.18,1.96],[1.09,2.02]];
const inD100rc = [[1.68,1.70],[1.43,1.70],[1.37,1.74],[1.31,1.84],[1.28,1.93],[1.26,1.91],[1.2,1.96],[1.09,2.02]];
const inD120rc = [[1.71,1.70],[1.44,1.70],[1.36,1.76],[1.30,1.88],[1.27,1.97],[1.26,1.92],[1.2,1.95],[1.09,2.00]];
const inD150rc = [[1.74,1.70],[1.46,1.70],[1.38,1.77],[1.32,1.88],[1.29,1.95],[1.27,1.91],[1.2,1.95],[1.09,2.01]];

// axis ticks
const ticksXab = [3.5,3.0,2.5,2.0,1.5,1.0,0.5,0.0];
const ticksY = [0.5,1.0,1.5,2.0,2.5,3.0,3.5];
const ticksXcd = [4,2,0,-2,-4];

const NS = "http://www.w3.org/2000/svg";
const svg = document.getElementById('fig');
function mk(tag, attrs, parent){ const e=document.createElementNS(NS,tag); for(const k in attrs) e.setAttribute(k,attrs[k]); (parent||svg).appendChild(e); return e; }
const COL = {g:'#007f00', k:'#000', m:'#bf00bf', b:'#0000ff', r:'#ff0000', c:'#00bfbf', rc:'#ffa500', rgb:'#00ff00', pre:'#bfbf00'};

function makePanel(id, P){
  P.sx = v => P.L + (v-P.x0)/(P.x1-P.x0)*(P.R-P.L);
  P.sy = v => P.B - (v-P.y0)/(P.y1-P.y0)*(P.B-P.T);
  const g = mk('g',{});
  
  
  const cp = mk('clipPath',{id:'clip-'+id}, g);
  mk('rect',{x:P.L,y:P.T,width:P.R-P.L,height:P.B-P.T}, cp);
  P.g = g;
  P.body = mk('g',{'clip-path':'url(#clip-'+id+')'}, g);
  const shade = mk('rect',{x:P.L,y:P.T,width:P.sx(1.5)-P.L,height:P.B-P.T,fill:'#e5e5e5'}, P.body);
  
  
  const vl = mk('line',{x1:P.sx(1.5),x2:P.sx(1.5),y1:P.T,y2:P.B,stroke:'#00e000','stroke-width':1.5,'stroke-dasharray':'5,2'}, P.body);
  
  
  return P;
}
function scatter(P, data, kind, name){
  const grp = mk('g',{}, P.body);
  
  
  for(const [a,l] of data){
    const x=P.sx(a), y=P.sy(l);
    let e;
    if(kind==='rc') e = mk('circle',{cx:x,cy:y,r:5.8,fill:'none',stroke:COL.rc,'stroke-width':1.8}, grp);
    else if(kind==='rgb') e = mk('rect',{x:x-4.7,y:y-4.7,width:9.4,height:9.4,fill:'none',stroke:COL.rgb,'stroke-width':1.7}, grp);
    else e = mk('path',{d:`M${x-6},${y}H${x+6}M${x},${y-6}V${y+6}`,stroke:COL.pre,'stroke-width':2}, grp);
    
    
  }
}
function track(P, data, color, dashed, name, parent, sxf, syf, w){
  const sx = sxf||P.sx, sy = syf||P.sy;
  const e = mk('polyline',{points:data.map(p=>sx(p[0]).toFixed(1)+','+sy(p[1]).toFixed(1)).join(' '),fill:'none',stroke:color,'stroke-width':w||(dashed?1.4:1.6),'stroke-dasharray':dashed?'4.5,2.5':'none','stroke-linejoin':'round'}, parent||P.body);
  
  
}
function txt(x,y,s,attrs,parent,name){
  const e = mk('text',Object.assign({x:x,y:y,'font-size':12.5,fill:'#222'},attrs||{}), parent||svg);
  e.innerHTML = s;
  
  
  return e;
}
function axes(P, xt, xminor, yminor, xfmt){
  const g=P.g;
  const fr = mk('rect',{x:P.L,y:P.T,width:P.R-P.L,height:P.B-P.T,fill:'none',stroke:'#555','stroke-width':1.6}, g);
  
  
  let d='';
  const xlo=Math.min(P.x0,P.x1), xhi=Math.max(P.x0,P.x1);
  for(let k=Math.ceil(xlo/xminor-1e-6);k<=Math.floor(xhi/xminor+1e-6);k++){const x=P.sx(k*xminor); d+=`M${x},${P.B}v-2.5M${x},${P.T}v2.5`;}
  for(let k=Math.ceil(P.y0/yminor-1e-6);k<=Math.floor(P.y1/yminor+1e-6);k++){const y=P.sy(k*yminor); d+=`M${P.L},${y}h2.5M${P.R},${y}h-2.5`;}
  for(const v of xt){const x=P.sx(v); d+=`M${x},${P.B}v-4.5M${x},${P.T}v4.5`;
    txt(x,P.B+15,xfmt(v),{'text-anchor':'middle'},g,'x-tick-label');}
  for(const v of ticksY){const y=P.sy(v); d+=`M${P.L},${y}h4.5M${P.R},${y}h-4.5`;
    txt(P.L-6,y+4.5,v.toFixed(1),{'text-anchor':'end'},g,'y-tick-label');}
  const tk = mk('path',{d:d,stroke:'#555','stroke-width':1,fill:'none'}, g);
  
  
  txt((P.L+P.R)/2,P.B+32,'A (<tspan font-size="9" dy="-5">7</tspan><tspan dy="5" font-style="italic">Li</tspan>)',{'text-anchor':'middle','font-size':12},g,'x-axis-title');
  txt(0,0,'log (<tspan font-style="italic">L</tspan>/<tspan font-style="italic">L</tspan><tspan font-size="8" dy="3">☉</tspan><tspan dy="-3">)</tspan>',{'text-anchor':'middle','font-size':12,transform:`translate(${P.L-30},${(P.T+P.B)/2}) rotate(-90)`},g,'y-axis-title');
}
function annot(P, label, tx, ty, ax1, ay1, ax2, ay2){
  const g=P.g;
  txt(P.R-8,P.T+26,label,{'text-anchor':'end','font-size':20,fill:'#000'},g,'panel-label');
  txt(tx,ty,'<tspan font-style="italic">A</tspan>(<tspan font-style="italic">Li</tspan>) = 1.5',{'font-size':16,fill:'#000'},g,'ali-annotation');
  const ar = mk('path',{d:`M${ax1},${ay1}L${ax2},${ay2}M${ax2},${ay2}l1,-5M${ax2},${ay2}l5,-1`,stroke:'#000','stroke-width':1.3,fill:'none'},g);
  
  
}
function legendLines(P, items, x1, x2, tx, y0, dy, dashed){
  const g = mk('g',{}, P.g);
  
  
  items.forEach((it,i)=>{
    const y=y0+i*dy;
    const l = mk('line',{x1:x1,x2:x2,y1:y,y2:y,stroke:it[0],'stroke-width':dashed?1.5:2,'stroke-dasharray':dashed?'4.5,2.5':'none'}, g);
    
    
    txt(tx,y+5,it[1],{'font-size':12.5,fill:'#111'},g,'legend-entry');
  });
}
function legendMarkers(P, items, mx, tx, ys){
  const g = mk('g',{}, P.g);
  
  
  items.forEach((it,i)=>{
    const y=ys[i]; let e;
    if(it==='rc') e=mk('circle',{cx:mx,cy:y,r:4.3,fill:'none',stroke:COL.rc,'stroke-width':1.8},g);
    else if(it==='rgb') e=mk('rect',{x:mx-4.5,y:y-4.5,width:9,height:9,fill:'none',stroke:COL.rgb,'stroke-width':1.2},g);
    else e=mk('path',{d:`M${mx-5},${y}h10M${mx},${y-5}v10`,stroke:COL.pre,'stroke-width':1.8},g);
    
    
    const lab = it==='rc'?'RC':(it==='rgb'?'RGB':'Before RGB');
    txt(tx,y+5,lab,{'font-size':12.5,'font-weight':'bold',fill:it==='rc'?COL.rc:(it==='rgb'?COL.rgb:COL.pre)},g,'legend-entry-'+it);
  });
}
function inset(P, box, xr, yr, xt, yt, series, name){
  const g = mk('g',{}, P.g);
  
  
  const sx = v => box.L + (v-xr[0])/(xr[1]-xr[0])*(box.R-box.L);
  const sy = v => box.B - (v-yr[0])/(yr[1]-yr[0])*(box.B-box.T);
  const bg = mk('rect',{x:box.L,y:box.T,width:box.R-box.L,height:box.B-box.T,fill:'#fff',stroke:'#555','stroke-width':1.2},g);
  
  
  const cpid = 'clip-'+name;
  const cp = mk('clipPath',{id:cpid},g);
  mk('rect',{x:box.L,y:box.T,width:box.R-box.L,height:box.B-box.T},cp);
  const body = mk('g',{'clip-path':`url(#${cpid})`},g);
  series.forEach(s=>track(P,s[0],s[1],false,'inset-track',body,sx,sy,1.5));
  let d='';
  for(const v of xt){const x=sx(v); d+=`M${x},${box.B}v-3`; txt(x,box.B+12,v.toFixed(1),{'text-anchor':'middle','font-size':10},g,'inset-x-tick-label');}
  for(const v of yt){const y=sy(v); d+=`M${box.L},${y}h3`; txt(box.L-3,y+4,v.toFixed(1),{'text-anchor':'end','font-size':10},g,'inset-y-tick-label');}
  const t=mk('path',{d:d,stroke:'#555','stroke-width':1},g);
  
  
}

const fmtAB = v=>v.toFixed(1);
const fmtCD = v=> v<0 ? '−'+Math.abs(v) : String(v);
const rcABall = rcAB.concat(rcAB2), preABall = preAB.concat(preAB2);
const rcCDall = rcCD.concat(rcCD2), preCDall = preCD.concat(preCD2);

// ===== Panel (a)
const A = makePanel('a',{L:46,R:575,T:9,B:537,x0:3.5,x1:-0.108,y0:0.205,y1:3.596});
scatter(A, rcABall,'rc','rc-stars'); scatter(A, rgbAB,'rgb','rgb-stars'); scatter(A, preABall,'pre','before-rgb-stars');
track(A,trA13,COL.g,true,'track-1.3msun'); track(A,trA14,COL.k,true,'track-1.4msun'); track(A,trA15,COL.m,true,'track-1.5msun'); track(A,trA16,COL.b,true,'track-1.6msun'); track(A,trA17,COL.r,true,'track-1.7msun');
axes(A, ticksXab, 0.1, 0.1, fmtAB);
annot(A,'(a)',355,25,353,30,343,41);
legendLines(A,[[COL.g,'M = 1.3M<tspan font-size="8" dy="3">☉</tspan>'],[COL.k,'<tspan font-style="italic">M</tspan> = 1.4<tspan font-style="italic">M</tspan><tspan font-size="8" dy="3">☉</tspan>'],[COL.m,'<tspan font-style="italic">M</tspan> = 1.5<tspan font-style="italic">M</tspan><tspan font-size="8" dy="3">☉</tspan>'],[COL.b,'<tspan font-style="italic">M</tspan> = 1.6<tspan font-style="italic">M</tspan><tspan font-size="8" dy="3">☉</tspan>'],[COL.r,'<tspan font-style="italic">M</tspan> = 1.7<tspan font-style="italic">M</tspan><tspan font-size="8" dy="3">☉</tspan>'],[COL.k,'A<tspan font-size="8" dy="-5">2</tspan><tspan dy="5"> = 0</tspan>']],57,77,88,24,17.4,true);
legendMarkers(A,['rc','rgb','pre'],65,78,[161,177,192]);
txt(307,530,'v<tspan font-size="9" dy="3">ini</tspan><tspan dy="-3">=0km/s,</tspan><tspan font-style="italic">Z</tspan> = 0.02,Ct=100',{'text-anchor':'middle','font-size':13,fill:'#111'},A.g,'model-parameters');

// ===== Panel (b)
const Bp = makePanel('b',{L:663,R:1192,T:9,B:537,x0:3.5,x1:-0.108,y0:0.205,y1:3.596});
scatter(Bp, rcABall,'rc','rc-stars'); scatter(Bp, rgbAB,'rgb','rgb-stars'); scatter(Bp, preABall,'pre','before-rgb-stars');
track(Bp,trB13,COL.g,false,'track-1.3msun'); track(Bp,trB14,COL.k,false,'track-1.4msun'); track(Bp,trB15,COL.m,false,'track-1.5msun'); track(Bp,trB16,COL.b,false,'track-1.6msun'); track(Bp,trB17,COL.r,false,'track-1.7msun');
axes(Bp, ticksXab, 0.1, 0.1, fmtAB);
annot(Bp,'(b)',972,25,970,30,960,41);
legendLines(Bp,[[COL.g,'M = 1.3M<tspan font-size="8" dy="3">☉</tspan>'],[COL.k,'<tspan font-style="italic">M</tspan> = 1.4<tspan font-style="italic">M</tspan><tspan font-size="8" dy="3">☉</tspan>'],[COL.m,'<tspan font-style="italic">M</tspan> = 1.5<tspan font-style="italic">M</tspan><tspan font-size="8" dy="3">☉</tspan>'],[COL.b,'<tspan font-style="italic">M</tspan> = 1.6<tspan font-style="italic">M</tspan><tspan font-size="8" dy="3">☉</tspan>'],[COL.r,'<tspan font-style="italic">M</tspan> = 1.7<tspan font-style="italic">M</tspan><tspan font-size="8" dy="3">☉</tspan>'],[COL.k,'A<tspan font-size="8" dy="-5">2</tspan><tspan dy="5"> = 1</tspan>']],674,694,705,24,17.4,false);
legendMarkers(Bp,['rc','rgb','pre'],682,695,[161,177,192]);
txt(924,530,'v<tspan font-size="9" dy="3">ini</tspan><tspan dy="-3">=0km/s,</tspan><tspan font-style="italic">Z</tspan> = 0.02,Ct=100',{'text-anchor':'middle','font-size':13,fill:'#111'},Bp.g,'model-parameters');
inset(Bp,{L:796,R:937,T:51,B:203},[1.748,1.045],[1.55,2.2],[1.6,1.4,1.2],[1.6,1.8,2.0,2.2],
  [[inB13,COL.g],[inB13rc,COL.g],[inB14,COL.k],[inB14rc,COL.k],[inB15,COL.m],[inB15rc,COL.m],[inB16,COL.b],[inB16rc,COL.b],[inB17,COL.r],[inB17rc,COL.r]],'inset-b');

// ===== Panel (c)
const C = makePanel('c',{L:46,R:575,T:620,B:1149,x0:4.6,x1:-5.0,y0:0.202,y1:3.705});
scatter(C, rcCDall,'rc','rc-stars'); scatter(C, rgbCD,'rgb','rgb-stars'); scatter(C, preCDall,'pre','before-rgb-stars');
[[rgbV0,cPostV0,COL.k,'0'],[rgbV65,cPostV65,COL.r,'65'],[rgbV85,cPostV85,COL.m,'85'],[rgbV100,cPostV100,COL.b,'100'],[rgbV120,cPostV120,COL.c,'120'],[rgbV150,cPostV150,COL.g,'150']].forEach(t=>{
  track(C,t[0],t[2],true,'track-vini-'+t[3]); track(C,t[1],t[2],true,'track-vini-'+t[3]+'-post');
});
axes(C, ticksXcd, 0.5, 0.1, fmtCD);
annot(C,'(c)',224,648,231,654,221,662);
const vlab = v=>'v<tspan font-size="9" dy="3">ini</tspan><tspan dy="-3">='+v+'km/s</tspan>';
legendLines(C,[[COL.k,vlab(0)],[COL.r,vlab(65)],[COL.m,vlab(85)],[COL.b,vlab(100)],[COL.c,vlab(120)],[COL.g,vlab(150)],[COL.k,'A<tspan font-size="8" dy="-5">2</tspan><tspan dy="5"> = 0</tspan>']],58,78,89,636,17.6,true);
legendMarkers(C,['pre','rgb','rc'],486,498,[1085,1100,1115]);
txt(359,1142,'<tspan font-style="italic">M</tspan> = 1.3<tspan font-style="italic">M</tspan><tspan font-size="8" dy="3">☉</tspan><tspan dy="-3"> ,</tspan><tspan font-style="italic">Z</tspan> = 0.02, <tspan font-style="italic">Ct</tspan> = 100',{'text-anchor':'middle','font-size':13,fill:'#111'},C.g,'model-parameters');
[['A',3.6,0.38],['B',0.04,0.79],['C',-0.84,0.67],['D',-2.45,3.43]].forEach(p=>txt(C.sx(p[1]),C.sy(p[2])+5,p[0],{'text-anchor':'middle','font-size':13,fill:'#111'},C.g,'point-label-'+p[0]));

// ===== Panel (d)
const D = makePanel('d',{L:663,R:1192,T:620,B:1149,x0:4.6,x1:-5.0,y0:0.202,y1:3.705});
scatter(D, rcCDall,'rc','rc-stars'); scatter(D, rgbCD,'rgb','rgb-stars'); scatter(D, preCDall,'pre','before-rgb-stars');
[[rgbV150,dPostV150,COL.g,'150'],[rgbV120,dPostV120,COL.c,'120'],[rgbV100,dPostV100,COL.b,'100'],[rgbV85,dPostV85,COL.m,'85'],[rgbV65,dPostV65,COL.r,'65'],[rgbV0,dPostV0,COL.k,'0']].forEach(t=>{
  track(D,t[0],t[2],false,'track-vini-'+t[3]); track(D,t[1],t[2],false,'track-vini-'+t[3]+'-post');
});
axes(D, ticksXcd, 0.5, 0.1, fmtCD);
annot(D,'(d)',841,648,848,654,838,662);
legendLines(D,[[COL.k,vlab(0)],[COL.r,vlab(65)],[COL.m,vlab(85)],[COL.b,vlab(100)],[COL.c,vlab(120)],[COL.g,vlab(150)],[COL.k,'A<tspan font-size="8" dy="-5">2</tspan><tspan dy="5"> = 1</tspan>']],672,695,705,636,17.6,false);
legendMarkers(D,['pre','rgb','rc'],1106,1119,[1085,1100,1115]);
txt(976,1142,'<tspan font-style="italic">M</tspan> = 1.3<tspan font-style="italic">M</tspan><tspan font-size="8" dy="3">☉</tspan><tspan dy="-3"> ,</tspan><tspan font-style="italic">Z</tspan> = 0.02, <tspan font-style="italic">Ct</tspan> = 100',{'text-anchor':'middle','font-size':13,fill:'#111'},D.g,'model-parameters');
[['A',3.6,0.38],['B',0.04,0.79],['C',-0.84,0.67],['D',-2.47,3.43],['E',1.28,2.73],['F',1.69,1.53],['G',1.81,2.07],['H',1.16,2.03]].forEach(p=>txt(D.sx(p[1]),D.sy(p[2])+5,p[0],{'text-anchor':'middle','font-size':13,fill:'#111'},D.g,'point-label-'+p[0]));
inset(D,{L:684,R:807,T:765,B:890},[1.8,1.09],[1.5,2.2],[1.8,1.6,1.4,1.2],[1.6,1.8,2.0,2.2],
  [[inD150,COL.g],[inD150rc,COL.g],[inD120,COL.c],[inD120rc,COL.c],[inD100,COL.b],[inD100rc,COL.b],[inD85,COL.m],[inD85rc,COL.m],[inD65,COL.r],[inD65rc,COL.r],[inD0,COL.k],[inD0rc,COL.k]],'inset-d');
</script>
</body></html>
